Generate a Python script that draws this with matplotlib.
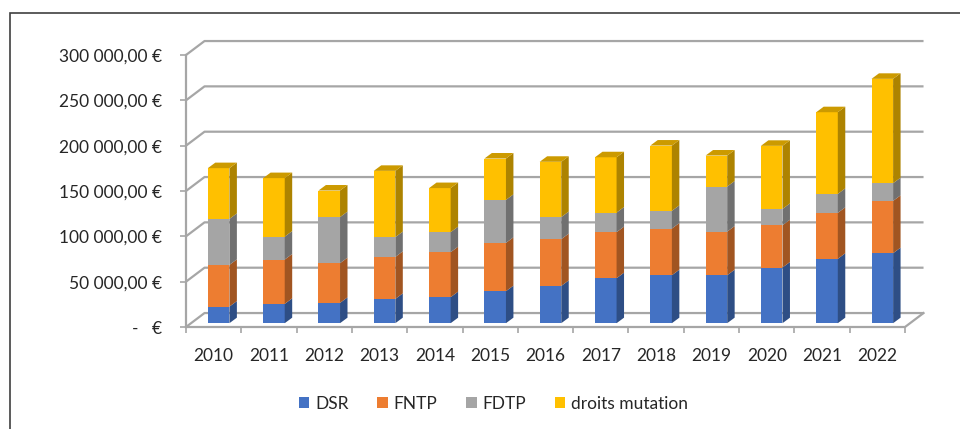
import numpy as np
import matplotlib.pyplot as plt
from matplotlib.patches import Polygon, Rectangle, Patch
from matplotlib.colors import to_rgb

plt.rcParams['font.family'] = ['Lato', 'DejaVu Sans']

years = ['2010', '2011', '2012', '2013', '2014', '2015', '2016',
         '2017', '2018', '2019', '2020', '2021', '2022']
dsr = [18300, 21300, 22400, 26800, 28700, 35300, 41100, 49600, 52900, 52900, 61400, 71000, 77200]
fntp = [46000, 48900, 43800, 46300, 49600, 53300, 51600, 50800, 51500, 48100, 46600, 50700, 57700]
fdtp = [50700, 25300, 50800, 21800, 22100, 47400, 24300, 21600, 19500, 49700, 18000, 20900, 19500]
droits = [56000, 64500, 29300, 73100, 48600, 45600, 61000, 61000, 72000, 34200, 69600, 90100, 115100]
series_names = ['DSR', 'FNTP', 'FDTP', 'droits mutation']
colors = ['#4472C4', '#ED7D31', '#A5A5A5', '#FFC000']

yticks = [0, 50000, 100000, 150000, 200000, 250000, 300000]
ylabels = ['-   €', '50 000,00 €', '100 000,00 €', '150 000,00 €',
           '200 000,00 €', '250 000,00 €', '300 000,00 €']


def shade(c, k):
    r, g, b = to_rgb(c)
    return (r * k, g * k, b * k)


fig = plt.figure(figsize=(9.6, 4.29), dpi=100)
ax = fig.add_axes([186 / 960, 1 - 327 / 429, (905 - 186) / 960, (327 - 55) / 429])
ax.set_xlim(-0.5, 12.5)
ax.set_ylim(0, 300000)
for s in ax.spines.values():
    s.set_visible(False)

# fake 3d walls (oblique projection)
depth_x, depth_y = 0.335, 15400
grid_c = '#a6a6a6'
for v in yticks:
    ax.plot([-0.5, -0.5 + depth_x, 12.5 + depth_x], [v, v + depth_y, v + depth_y],
            color=grid_c, lw=1.6, clip_on=False, zorder=1, solid_capstyle='butt')
ax.plot([-0.5, 12.5, 12.5 + depth_x], [0, 0, depth_y], color=grid_c, lw=1.6,
        clip_on=False, zorder=1)
ax.plot([-0.5, -0.5], [0, 300000], color=grid_c, lw=1.6, clip_on=False, zorder=1)

# bars
xs = np.arange(len(years))
bar_w, off_x, off_y = 0.39, 0.09, 4200
bar_dx, bar_dy = 0.135, 6100
bottom = np.zeros(len(years))
all_series = [dsr, fntp, fdtp, droits]
for i, (vals, col) in enumerate(zip(all_series, colors)):
    vals = np.array(vals, dtype=float)
    ax.bar(xs + off_x, vals, bar_w, bottom=bottom + off_y, color=col, lw=0, zorder=3)
    for x, b, h in zip(xs + off_x, bottom + off_y, vals):
        xr = x + bar_w / 2
        side = [(xr, b), (xr + bar_dx, b + bar_dy), (xr + bar_dx, b + h + bar_dy), (xr, b + h)]
        ax.add_patch(Polygon(side, closed=True, fc=shade(col, 0.68), lw=0, zorder=3))
        if i == len(all_series) - 1:
            xl = x - bar_w / 2
            t = b + h
            top = [(xl, t), (xl + bar_dx, t + bar_dy), (xr + bar_dx, t + bar_dy), (xr, t)]
            ax.add_patch(Polygon(top, closed=True, fc=shade(col, 0.8), lw=0, zorder=3))
    bottom += vals

ax.set_yticks(yticks, ylabels)
ax.tick_params(axis='y', length=4.5, width=1.2, color=grid_c, pad=13,
               labelsize=12.5, labelcolor='#262626')
ax.set_xticks(xs, years)
ax.set_xticks(np.arange(-0.5, 13, 1), minor=True)
ax.tick_params(axis='x', which='major', length=0, pad=15, labelsize=12.5, labelcolor='#262626')
ax.tick_params(axis='x', which='minor', length=4, width=1.2, color=grid_c)

handles = [Patch(fc=c, ec='none') for c in colors]
fig.legend(handles, series_names, loc='center', bbox_to_anchor=(493.5 / 960, 1 - 404 / 429),
           ncol=4, frameon=False, fontsize=12.5, handlelength=0.6, handleheight=0.6,
           handletextpad=0.35, columnspacing=1.65, labelcolor='#262626')

fig.add_artist(Rectangle((10 / 960, -0.1), 1.2, (1 - 13 / 429) + 0.1, transform=fig.transFigure,
                         fill=False, ec='#404040', lw=1.2))

fig.savefig('out.png', dpi=100)
